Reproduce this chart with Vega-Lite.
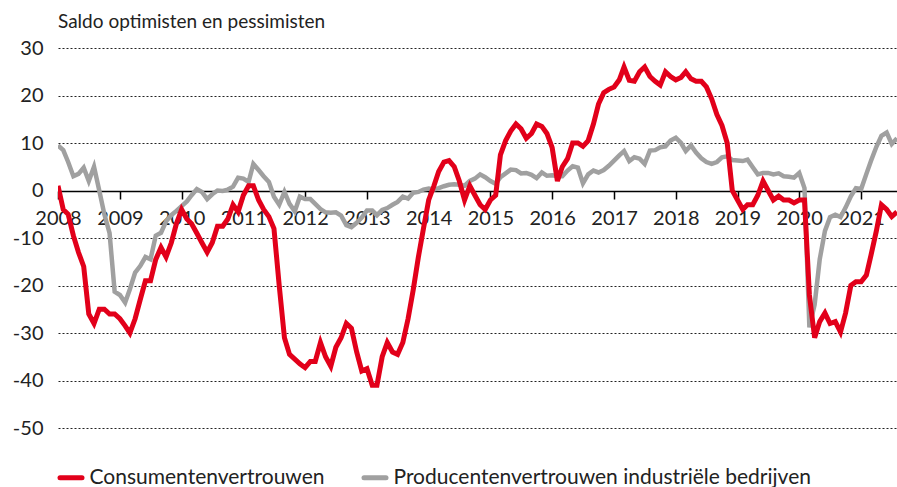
{
  "$schema": "https://vega.github.io/schema/vega-lite/v6.json",
  "width": 839,
  "height": 380,
  "autosize": {"type": "none"},
  "padding": {"left": 58, "top": 48, "right": 0, "bottom": 59},
  "background": "white",
  "config": {"view": {"stroke": null}, "font": "Lato"},
  "title": {"text": "Saldo optimisten en pessimisten", "anchor": "start", "frame": "group", "fontSize": 19, "fontWeight": "normal", "color": "#222", "baseline": "alphabetic", "offset": 20, "dy": 29},
  "data": {"values": [
    {"d":"2008-01-01","c":1,"p":9.5},{"d":"2008-02-01","c":-4,"p":8.5},{"d":"2008-03-01","c":-5,"p":6},{"d":"2008-04-01","c":-9.5,"p":3},{"d":"2008-05-01","c":-13,"p":3.5},{"d":"2008-06-01","c":-16,"p":4.8},{"d":"2008-07-01","c":-26,"p":2},{"d":"2008-08-01","c":-28,"p":5},{"d":"2008-09-01","c":-25,"p":0},{"d":"2008-10-01","c":-25,"p":-5},{"d":"2008-11-01","c":-26,"p":-9},{"d":"2008-12-01","c":-26,"p":-21.3},
    {"d":"2009-01-01","c":-27,"p":-22},{"d":"2009-02-01","c":-28.5,"p":-23.6},{"d":"2009-03-01","c":-30,"p":-20.8},{"d":"2009-04-01","c":-27,"p":-17.3},{"d":"2009-05-01","c":-23,"p":-15.9},{"d":"2009-06-01","c":-19,"p":-14},{"d":"2009-07-01","c":-19,"p":-14.5},{"d":"2009-08-01","c":-14.5,"p":-9.5},{"d":"2009-09-01","c":-12,"p":-8.9},{"d":"2009-10-01","c":-14,"p":-6.5},{"d":"2009-11-01","c":-11,"p":-5.2},{"d":"2009-12-01","c":-7,"p":-4.3},
    {"d":"2010-01-01","c":-4,"p":-3.3},{"d":"2010-02-01","c":-6,"p":-2.3},{"d":"2010-03-01","c":-7,"p":-1},{"d":"2010-04-01","c":-9,"p":0.3},{"d":"2010-05-01","c":-11,"p":-0.3},{"d":"2010-06-01","c":-13,"p":-1.8},{"d":"2010-07-01","c":-11,"p":-0.8},{"d":"2010-08-01","c":-7.5,"p":0},{"d":"2010-09-01","c":-7.5,"p":-0.1},{"d":"2010-10-01","c":-6,"p":0.2},{"d":"2010-11-01","c":-3,"p":0.8},{"d":"2010-12-01","c":-4.5,"p":2.7},
    {"d":"2011-01-01","c":-1,"p":2.5},{"d":"2011-02-01","c":1,"p":1.8},{"d":"2011-03-01","c":1,"p":5.6},{"d":"2011-04-01","c":-2,"p":4.3},{"d":"2011-05-01","c":-4,"p":3},{"d":"2011-06-01","c":-5.5,"p":1.8},{"d":"2011-07-01","c":-8,"p":-1.3},{"d":"2011-08-01","c":-20,"p":-3},{"d":"2011-09-01","c":-31,"p":-0.3},{"d":"2011-10-01","c":-34.5,"p":-2.8},{"d":"2011-11-01","c":-35.5,"p":-4.4},{"d":"2011-12-01","c":-36.5,"p":-1.3},
    {"d":"2012-01-01","c":-37.3,"p":-1.8},{"d":"2012-02-01","c":-36,"p":-1.8},{"d":"2012-03-01","c":-36,"p":-2.8},{"d":"2012-04-01","c":-32,"p":-3.9},{"d":"2012-05-01","c":-35,"p":-4.6},{"d":"2012-06-01","c":-37,"p":-4.7},{"d":"2012-07-01","c":-33,"p":-4.6},{"d":"2012-08-01","c":-31,"p":-5.3},{"d":"2012-09-01","c":-28,"p":-7.3},{"d":"2012-10-01","c":-29,"p":-7.7},{"d":"2012-11-01","c":-34,"p":-6.8},{"d":"2012-12-01","c":-38,"p":-5.7},
    {"d":"2013-01-01","c":-37.5,"p":-4.2},{"d":"2013-02-01","c":-41,"p":-4.2},{"d":"2013-03-01","c":-41,"p":-5.2},{"d":"2013-04-01","c":-35,"p":-4.1},{"d":"2013-05-01","c":-32,"p":-3.7},{"d":"2013-06-01","c":-34,"p":-3},{"d":"2013-07-01","c":-34.5,"p":-2.4},{"d":"2013-08-01","c":-32,"p":-1.3},{"d":"2013-09-01","c":-27,"p":-1.7},{"d":"2013-10-01","c":-21,"p":-0.5},{"d":"2013-11-01","c":-14,"p":-0.3},{"d":"2013-12-01","c":-8,"p":0.2},
    {"d":"2014-01-01","c":-2,"p":0.4},{"d":"2014-02-01","c":1,"p":0.2},{"d":"2014-03-01","c":4,"p":0.5},{"d":"2014-04-01","c":6,"p":0.9},{"d":"2014-05-01","c":6.3,"p":1.2},{"d":"2014-06-01","c":5,"p":1.3},{"d":"2014-07-01","c":2,"p":1.2},{"d":"2014-08-01","c":-2,"p":1},{"d":"2014-09-01","c":1,"p":2},{"d":"2014-10-01","c":-1,"p":2.5},{"d":"2014-11-01","c":-3,"p":3.4},{"d":"2014-12-01","c":-4,"p":2.8},
    {"d":"2015-01-01","c":-2,"p":2},{"d":"2015-02-01","c":-1,"p":1.4},{"d":"2015-03-01","c":7.5,"p":2.8},{"d":"2015-04-01","c":10.5,"p":3.6},{"d":"2015-05-01","c":12.5,"p":4.4},{"d":"2015-06-01","c":14,"p":4.3},{"d":"2015-07-01","c":13,"p":3.6},{"d":"2015-08-01","c":11,"p":3.7},{"d":"2015-09-01","c":12,"p":3.3},{"d":"2015-10-01","c":14,"p":2.6},{"d":"2015-11-01","c":13.5,"p":3.8},{"d":"2015-12-01","c":12,"p":3.1},
    {"d":"2016-01-01","c":9,"p":3.2},{"d":"2016-02-01","c":2,"p":3},{"d":"2016-03-01","c":5,"p":3},{"d":"2016-04-01","c":6.7,"p":4.2},{"d":"2016-05-01","c":10,"p":5.1},{"d":"2016-06-01","c":10,"p":4.8},{"d":"2016-07-01","c":9.3,"p":1.5},{"d":"2016-08-01","c":10.5,"p":3.4},{"d":"2016-09-01","c":14,"p":4.2},{"d":"2016-10-01","c":18.2,"p":3.8},{"d":"2016-11-01","c":20.6,"p":4.3},{"d":"2016-12-01","c":21.3,"p":5.2},
    {"d":"2017-01-01","c":21.8,"p":6.3},{"d":"2017-02-01","c":23.3,"p":7.4},{"d":"2017-03-01","c":26,"p":8.3},{"d":"2017-04-01","c":23.2,"p":6.2},{"d":"2017-05-01","c":23,"p":7},{"d":"2017-06-01","c":25,"p":6.7},{"d":"2017-07-01","c":26,"p":5.6},{"d":"2017-08-01","c":24,"p":8.4},{"d":"2017-09-01","c":23,"p":8.5},{"d":"2017-10-01","c":22.2,"p":9.1},{"d":"2017-11-01","c":25,"p":9.3},{"d":"2017-12-01","c":24,"p":10.5},
    {"d":"2018-01-01","c":23.3,"p":11.1},{"d":"2018-02-01","c":23.8,"p":10},{"d":"2018-03-01","c":25,"p":8.3},{"d":"2018-04-01","c":23.5,"p":9.5},{"d":"2018-05-01","c":23,"p":8},{"d":"2018-06-01","c":23,"p":6.8},{"d":"2018-07-01","c":21.8,"p":6},{"d":"2018-08-01","c":19.3,"p":5.6},{"d":"2018-09-01","c":16,"p":6},{"d":"2018-10-01","c":13.7,"p":7},{"d":"2018-11-01","c":10,"p":7.2},{"d":"2018-12-01","c":0,"p":6.4},
    {"d":"2019-01-01","c":-2,"p":6.3},{"d":"2019-02-01","c":-4,"p":6.2},{"d":"2019-03-01","c":-3,"p":6.5},{"d":"2019-04-01","c":-3,"p":4.9},{"d":"2019-05-01","c":-1,"p":3.4},{"d":"2019-06-01","c":2,"p":3.7},{"d":"2019-07-01","c":0,"p":3.7},{"d":"2019-08-01","c":-2,"p":3.4},{"d":"2019-09-01","c":-1.2,"p":3.6},{"d":"2019-10-01","c":-2,"p":3},{"d":"2019-11-01","c":-2,"p":2.9},{"d":"2019-12-01","c":-2.6,"p":2.7},
    {"d":"2020-01-01","c":-2,"p":3.7},{"d":"2020-02-01","c":-2,"p":0.5},{"d":"2020-03-01","c":-22,"p":-28.8},{"d":"2020-04-01","c":-31,"p":-24},{"d":"2020-05-01","c":-27.6,"p":-14.5},{"d":"2020-06-01","c":-25.8,"p":-8.5},{"d":"2020-07-01","c":-28,"p":-5.6},{"d":"2020-08-01","c":-27.6,"p":-5.1},{"d":"2020-09-01","c":-29.8,"p":-5.6},{"d":"2020-10-01","c":-25.8,"p":-3.6},{"d":"2020-11-01","c":-20,"p":-1.2},{"d":"2020-12-01","c":-19.2,"p":0.5},
    {"d":"2021-01-01","c":-19.2,"p":0.3},{"d":"2021-02-01","c":-17.8,"p":3.5},{"d":"2021-03-01","c":-13.5,"p":6.3},{"d":"2021-04-01","c":-8.5,"p":9.2},{"d":"2021-05-01","c":-3,"p":11.5},{"d":"2021-06-01","c":-4,"p":12.2},{"d":"2021-07-01","c":-5.5,"p":9.8},{"d":"2021-08-01","c":-4.5,"p":11}
  ]},
  "encoding": {
    "x": {
      "field": "d",
      "type": "temporal",
      "scale": {"type": "utc", "domain": [{"year": 2008, "month": 1, "date": 1, "utc": true}, {"year": 2021, "month": 8, "date": 1, "utc": true}]},
      "axis": {
        "title": null,
        "format": "%Y",
        "tickCount": {"interval": "year", "step": 1},
        "offset": -237,
        "grid": false,
        "domainColor": "#000",
        "domainWidth": 1.5,
        "tickColor": "#000",
        "tickWidth": 1.5,
        "tickSize": 8,
        "labelFontSize": 20,
        "labelColor": "#222",
        "labelPadding": 9,
        "labelFlush": false,
        "labelOverlap": false,
        "labelBound": false
      }
    }
  },
  "layer": [
    {
      "mark": {"type": "line", "strokeWidth": 4.5, "clip": true},
      "encoding": {
        "y": {
          "field": "p",
          "type": "quantitative",
          "scale": {"domain": [-50, 30], "nice": false, "zero": false},
          "axis": {
            "title": null,
            "values": [-50, -40, -30, -20, -10, 0, 10, 20, 30],
            "grid": true,
            "gridDash": [2, 2],
            "gridColor": "#222",
            "gridWidth": 1,
            "domain": false,
            "ticks": false,
            "labelFontSize": 20,
            "labelColor": "#222",
            "labelPadding": 15,
            "labelExpr": "'' + datum.value"
          }
        },
        "color": {
          "datum": "Producentenvertrouwen industriële bedrijven",
          "type": "nominal",
          "scale": {"domain": ["Consumentenvertrouwen", "Producentenvertrouwen industriële bedrijven"], "range": ["#e2001a", "#a0a0a0"]},
          "legend": {
            "title": null,
            "orient": "none",
            "direction": "horizontal",
            "columns": 2,
            "legendX": -0.5,
            "legendY": 416,
            "padding": 0,
            "symbolType": "stroke",
            "symbolSize": 484,
            "symbolStrokeWidth": 5,
            "labelFontSize": 21,
            "labelColor": "#222",
            "labelOffset": 5,
            "labelLimit": 600,
            "columnPadding": 28,
            "encode": {"symbols": {"update": {"strokeCap": {"value": "round"}}}}
          }
        }
      }
    },
    {
      "mark": {"type": "line", "strokeWidth": 5, "clip": true},
      "encoding": {
        "y": {
          "field": "c",
          "type": "quantitative",
          "scale": {"domain": [-50, 30], "nice": false, "zero": false},
          "axis": {
            "title": null,
            "values": [-50, -40, -30, -20, -10, 0, 10, 20, 30],
            "grid": true,
            "gridDash": [2, 2],
            "gridColor": "#222",
            "gridWidth": 1,
            "domain": false,
            "ticks": false,
            "labelFontSize": 20,
            "labelColor": "#222",
            "labelPadding": 15,
            "labelExpr": "'' + datum.value"
          }
        },
        "color": {
          "datum": "Consumentenvertrouwen",
          "type": "nominal"
        }
      }
    }
  ]
}
